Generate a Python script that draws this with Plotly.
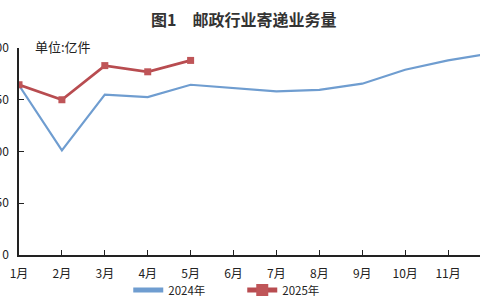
import plotly.graph_objects as go

months = ["1月", "2月", "3月", "4月", "5月", "6月", "7月", "8月", "9月", "10月", "11月", "12月"]
vol_2024 = [164, 101, 155, 152.5, 164.5, 161, 158, 159.5, 165.5, 179, 188, 195]
vol_2025 = [164.5, 150, 183, 177, 188]
y_ticks = [0, 50, 100, 150, 200]

FONT = "Noto Sans CJK SC, Noto Sans, sans-serif"

fig = go.Figure()
fig.add_trace(go.Scatter(
    x=months, y=vol_2024, name="2024年", mode="lines",
    line=dict(color="#6f9dd0", width=2.2),
))
fig.add_trace(go.Scatter(
    x=months[:len(vol_2025)], y=vol_2025, name="2025年", mode="lines+markers",
    line=dict(color="#b84c50", width=2.8),
    marker=dict(symbol="square", size=7, color="#bf5558"),
))

fig.update_layout(
    width=480, height=300,
    margin=dict(l=19, r=0, t=48, b=45),
    paper_bgcolor="white", plot_bgcolor="white",
    font=dict(family=FONT, size=12, color="#222"),
    title=dict(text="<b>图1\u3000邮政行业寄递业务量</b>", x=0.508, xanchor="center",
               y=0.932, yanchor="middle", font=dict(size=16, color="#333", family=FONT)),
    showlegend=True,
    legend=dict(orientation="h", x=0.237, xanchor="left",
                yref="container", y=0.033, yanchor="middle",
                font=dict(size=11.5, color="#222"), entrywidth=69, bgcolor="rgba(0,0,0,0)",
                tracegroupgap=0, itemsizing="constant"),
    annotations=[dict(text="单位:亿件", xref="paper", yref="paper", x=0.03, y=1.005,
                      xanchor="left", yanchor="middle", showarrow=False,
                      font=dict(size=13, color="#222"))],
)
fig.update_xaxes(
    type="category", categoryorder="array", categoryarray=months,
    range=[0, 10.745], showgrid=False, zeroline=False,
    showline=True, linecolor="#222", linewidth=1.5,
    ticks="inside", ticklen=5, tickcolor="#222", tickwidth=1.3,
    tickfont=dict(size=12, color="#222"), ticklabelstandoff=7, automargin=False,
)
fig.update_yaxes(
    range=[0, 200], tickvals=y_ticks, showgrid=False, zeroline=False,
    showline=True, linecolor="#222", linewidth=1.5,
    ticks="inside", ticklen=5, tickcolor="#222", tickwidth=1.3,
    tickfont=dict(size=12, color="#222"), ticklabelstandoff=6, automargin=False,
)

fig.write_html("out.html")
